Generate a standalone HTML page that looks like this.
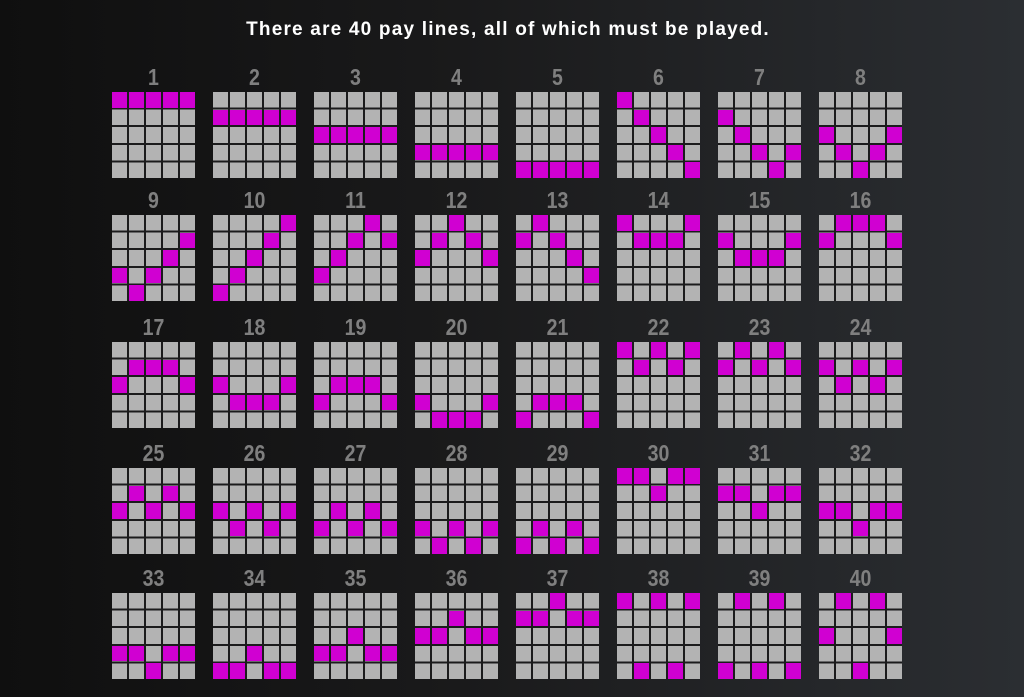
<!DOCTYPE html>
<html><head><meta charset="utf-8"><style>
html,body{margin:0;padding:0}
body{width:1024px;height:697px;overflow:hidden;position:relative;background:linear-gradient(90deg,#0f0f0f 0%,#1a1a1b 45%,#2b2e32 100%);font-family:"Liberation Sans",sans-serif}
h1{position:absolute;left:0;top:19px;width:1016px;margin:0;text-align:center;color:#fff;font-size:19px;font-weight:bold;letter-spacing:1.2px}
.g{position:absolute;width:83px;height:86px;background:repeating-linear-gradient(180deg,transparent 0 15.6px,#1b1b1c 15.6px 17.6px),repeating-linear-gradient(90deg,#b3b3b3 0 15px,#1b1b1c 15px 17px)}
.g b{position:absolute;left:0;width:83px;top:-27px;text-align:center;color:#7f7f7f;font-family:"Liberation Sans Narrow","Liberation Sans",sans-serif;font-size:23px;font-weight:bold;line-height:24px;transform:scaleX(0.85)}
.g i{position:absolute;width:15px;height:15.6px;background:#d000d2}
.a{left:0}.b{left:17px}.c{left:34px}.d{left:51px}.e{left:68px}
.r0{top:0}.r1{top:17.6px}.r2{top:35.2px}.r3{top:52.8px}.r4{top:70.4px}
</style></head><body>
<h1>There are 40 pay lines, all of which must be played.</h1>

<div class="g" style="left:112px;top:92px"><b>1</b><i class="a r0"></i><i class="b r0"></i><i class="c r0"></i><i class="d r0"></i><i class="e r0"></i></div>
<div class="g" style="left:213px;top:92px"><b>2</b><i class="a r1"></i><i class="b r1"></i><i class="c r1"></i><i class="d r1"></i><i class="e r1"></i></div>
<div class="g" style="left:314px;top:92px"><b>3</b><i class="a r2"></i><i class="b r2"></i><i class="c r2"></i><i class="d r2"></i><i class="e r2"></i></div>
<div class="g" style="left:415px;top:92px"><b>4</b><i class="a r3"></i><i class="b r3"></i><i class="c r3"></i><i class="d r3"></i><i class="e r3"></i></div>
<div class="g" style="left:516px;top:92px"><b>5</b><i class="a r4"></i><i class="b r4"></i><i class="c r4"></i><i class="d r4"></i><i class="e r4"></i></div>
<div class="g" style="left:617px;top:92px"><b>6</b><i class="a r0"></i><i class="b r1"></i><i class="c r2"></i><i class="d r3"></i><i class="e r4"></i></div>
<div class="g" style="left:718px;top:92px"><b>7</b><i class="a r1"></i><i class="b r2"></i><i class="c r3"></i><i class="d r4"></i><i class="e r3"></i></div>
<div class="g" style="left:819px;top:92px"><b>8</b><i class="a r2"></i><i class="b r3"></i><i class="c r4"></i><i class="d r3"></i><i class="e r2"></i></div>

<div class="g" style="left:112px;top:215px"><b>9</b><i class="a r3"></i><i class="b r4"></i><i class="c r3"></i><i class="d r2"></i><i class="e r1"></i></div>
<div class="g" style="left:213px;top:215px"><b>10</b><i class="a r4"></i><i class="b r3"></i><i class="c r2"></i><i class="d r1"></i><i class="e r0"></i></div>
<div class="g" style="left:314px;top:215px"><b>11</b><i class="a r3"></i><i class="b r2"></i><i class="c r1"></i><i class="d r0"></i><i class="e r1"></i></div>
<div class="g" style="left:415px;top:215px"><b>12</b><i class="a r2"></i><i class="b r1"></i><i class="c r0"></i><i class="d r1"></i><i class="e r2"></i></div>
<div class="g" style="left:516px;top:215px"><b>13</b><i class="a r1"></i><i class="b r0"></i><i class="c r1"></i><i class="d r2"></i><i class="e r3"></i></div>
<div class="g" style="left:617px;top:215px"><b>14</b><i class="a r0"></i><i class="b r1"></i><i class="c r1"></i><i class="d r1"></i><i class="e r0"></i></div>
<div class="g" style="left:718px;top:215px"><b>15</b><i class="a r1"></i><i class="b r2"></i><i class="c r2"></i><i class="d r2"></i><i class="e r1"></i></div>
<div class="g" style="left:819px;top:215px"><b>16</b><i class="a r1"></i><i class="b r0"></i><i class="c r0"></i><i class="d r0"></i><i class="e r1"></i></div>

<div class="g" style="left:112px;top:342px"><b>17</b><i class="a r2"></i><i class="b r1"></i><i class="c r1"></i><i class="d r1"></i><i class="e r2"></i></div>
<div class="g" style="left:213px;top:342px"><b>18</b><i class="a r2"></i><i class="b r3"></i><i class="c r3"></i><i class="d r3"></i><i class="e r2"></i></div>
<div class="g" style="left:314px;top:342px"><b>19</b><i class="a r3"></i><i class="b r2"></i><i class="c r2"></i><i class="d r2"></i><i class="e r3"></i></div>
<div class="g" style="left:415px;top:342px"><b>20</b><i class="a r3"></i><i class="b r4"></i><i class="c r4"></i><i class="d r4"></i><i class="e r3"></i></div>
<div class="g" style="left:516px;top:342px"><b>21</b><i class="a r4"></i><i class="b r3"></i><i class="c r3"></i><i class="d r3"></i><i class="e r4"></i></div>
<div class="g" style="left:617px;top:342px"><b>22</b><i class="a r0"></i><i class="b r1"></i><i class="c r0"></i><i class="d r1"></i><i class="e r0"></i></div>
<div class="g" style="left:718px;top:342px"><b>23</b><i class="a r1"></i><i class="b r0"></i><i class="c r1"></i><i class="d r0"></i><i class="e r1"></i></div>
<div class="g" style="left:819px;top:342px"><b>24</b><i class="a r1"></i><i class="b r2"></i><i class="c r1"></i><i class="d r2"></i><i class="e r1"></i></div>

<div class="g" style="left:112px;top:468px"><b>25</b><i class="a r2"></i><i class="b r1"></i><i class="c r2"></i><i class="d r1"></i><i class="e r2"></i></div>
<div class="g" style="left:213px;top:468px"><b>26</b><i class="a r2"></i><i class="b r3"></i><i class="c r2"></i><i class="d r3"></i><i class="e r2"></i></div>
<div class="g" style="left:314px;top:468px"><b>27</b><i class="a r3"></i><i class="b r2"></i><i class="c r3"></i><i class="d r2"></i><i class="e r3"></i></div>
<div class="g" style="left:415px;top:468px"><b>28</b><i class="a r3"></i><i class="b r4"></i><i class="c r3"></i><i class="d r4"></i><i class="e r3"></i></div>
<div class="g" style="left:516px;top:468px"><b>29</b><i class="a r4"></i><i class="b r3"></i><i class="c r4"></i><i class="d r3"></i><i class="e r4"></i></div>
<div class="g" style="left:617px;top:468px"><b>30</b><i class="a r0"></i><i class="b r0"></i><i class="c r1"></i><i class="d r0"></i><i class="e r0"></i></div>
<div class="g" style="left:718px;top:468px"><b>31</b><i class="a r1"></i><i class="b r1"></i><i class="c r2"></i><i class="d r1"></i><i class="e r1"></i></div>
<div class="g" style="left:819px;top:468px"><b>32</b><i class="a r2"></i><i class="b r2"></i><i class="c r3"></i><i class="d r2"></i><i class="e r2"></i></div>

<div class="g" style="left:112px;top:593px"><b>33</b><i class="a r3"></i><i class="b r3"></i><i class="c r4"></i><i class="d r3"></i><i class="e r3"></i></div>
<div class="g" style="left:213px;top:593px"><b>34</b><i class="a r4"></i><i class="b r4"></i><i class="c r3"></i><i class="d r4"></i><i class="e r4"></i></div>
<div class="g" style="left:314px;top:593px"><b>35</b><i class="a r3"></i><i class="b r3"></i><i class="c r2"></i><i class="d r3"></i><i class="e r3"></i></div>
<div class="g" style="left:415px;top:593px"><b>36</b><i class="a r2"></i><i class="b r2"></i><i class="c r1"></i><i class="d r2"></i><i class="e r2"></i></div>
<div class="g" style="left:516px;top:593px"><b>37</b><i class="a r1"></i><i class="b r1"></i><i class="c r0"></i><i class="d r1"></i><i class="e r1"></i></div>
<div class="g" style="left:617px;top:593px"><b>38</b><i class="a r0"></i><i class="b r4"></i><i class="c r0"></i><i class="d r4"></i><i class="e r0"></i></div>
<div class="g" style="left:718px;top:593px"><b>39</b><i class="a r4"></i><i class="b r0"></i><i class="c r4"></i><i class="d r0"></i><i class="e r4"></i></div>
<div class="g" style="left:819px;top:593px"><b>40</b><i class="a r2"></i><i class="b r0"></i><i class="c r4"></i><i class="d r0"></i><i class="e r2"></i></div>
</body></html>
